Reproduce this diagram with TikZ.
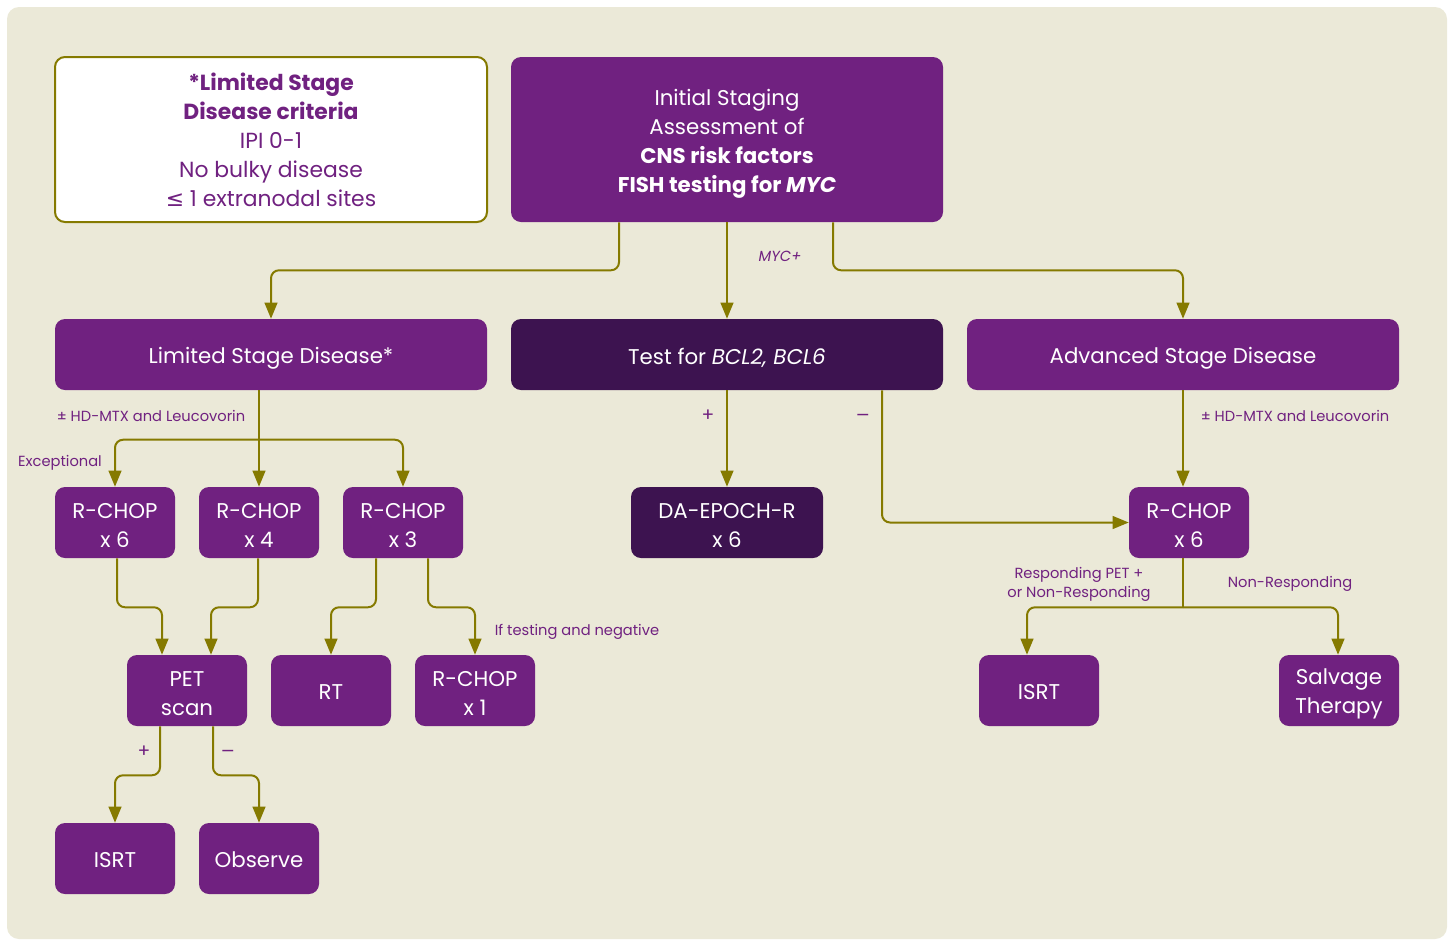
\documentclass[tikz,border=0pt]{standalone}
\usepackage{fontspec}
\setmainfont{Poppins}
\newfontfamily\dv{DejaVu Sans}
\usetikzlibrary{arrows.meta,calc}
\definecolor{pur}{RGB}{112,33,128}
\definecolor{dpur}{RGB}{61,19,80}
\definecolor{olv}{RGB}{133,122,0}
\definecolor{bgc}{RGB}{235,233,216}
\newcommand\liftA{\rule{0pt}{18pt}}
\newcommand\liftB{\rule{0pt}{16.3pt}}
\newcommand\liftC{\rule{0pt}{14.2pt}}
\newcommand\liftD{\rule{0pt}{13.6pt}}
\begin{document}
\begin{tikzpicture}[x=0.75pt,y=-0.75pt,
  pbox/.style={fill=pur,rounded corners=7.5pt,text=white,align=center,inner sep=0pt,
    font=\fontsize{16}{21.75}\selectfont},
  dbox/.style={pbox,fill=dpur},
  big/.style={minimum width=324pt,minimum height=53.25pt},
  small/.style={minimum width=90pt,minimum height=53.25pt},
  critbox/.style={fill=white,draw=olv,line width=1.5pt,rounded corners=7.5pt,text=pur,align=center,
    inner sep=0pt,minimum width=324pt,minimum height=123.75pt,font=\fontsize{16.4}{21.75}\selectfont},
  plain/.style={draw=olv,line width=1.5pt},
  conn/.style={plain,rounded corners=6pt,-{Triangle[length=12pt,width=9.5pt]}},
  lab/.style={text=pur,inner sep=0pt,font=\fontsize{11}{14.2}\selectfont,align=center}]
\useasboundingbox (0,0) rectangle (1450,940);
\fill[white] (0,0) rectangle (1450,940);
\fill[bgc,rounded corners=9pt] (7,7) rectangle (1447,939);

% nodes
\node[critbox] (crit) at (271,139.5) {\liftC\textbf{*Limited Stage}\\\textbf{Disease criteria}\\IPI 0-1\\No bulky disease\\{\dv ≤} 1 extranodal sites};
\node[pbox,minimum width=324pt,minimum height=123.75pt] (init) at (727,139.5) {\liftA Initial Staging\\Assessment of\\\textbf{CNS risk factors}\\\textbf{FISH testing for \textit{MYC}}};
\node[pbox,big] (lim) at (271,354.5) {\liftA Limited Stage Disease*};
\node[dbox,big] (test) at (727,354.5) {\liftA Test for \textit{BCL2, BCL6}};
\node[pbox,big] (adv) at (1183,354.5) {\liftA Advanced Stage Disease};
\node[pbox,small] (rc6) at (115,522.5) {\liftB R-CHOP\\x 6};
\node[pbox,small] (rc4) at (259,522.5) {\liftB R-CHOP\\x 4};
\node[pbox,small] (rc3) at (403,522.5) {\liftB R-CHOP\\x 3};
\node[dbox,minimum width=144pt,minimum height=53.25pt] (da) at (727,522.5) {\liftB DA-EPOCH-R\\x 6};
\node[pbox,small] (rcr) at (1189,522.5) {\liftB R-CHOP\\x 6};
\node[pbox,small] (pet) at (187,690.5) {\liftB PET\\scan};
\node[pbox,small] (rt) at (331,690.5) {\liftD RT};
\node[pbox,small] (rc1) at (475,690.5) {\liftB R-CHOP\\x 1};
\node[pbox,small] (isrtR) at (1039,690.5) {\liftD ISRT};
\node[pbox,small] (salv) at (1339,690.5) {\liftB Salvage\\Therapy};
\node[pbox,small] (isrtL) at (115,858.5) {\liftD ISRT};
\node[pbox,small] (obs) at (259,858.5) {\liftD Observe};

% labels
\node[lab,font=\fontsize{11}{14}\selectfont\itshape] (lmyc) at (780,256) {MYC+};
\node[lab] (lhd1) at (151,416) {± HD-MTX and Leucovorin};
\node[lab] (lexc) at (60,463) {Exceptional};
\node[lab,font=\fontsize{14}{14}\selectfont] (lplus1) at (708,416) {+};
\node[lab,font=\fontsize{13}{14}\selectfont\dv] (lminus1) at (863,417) {−};
\node[lab] (lhd2) at (1295,416) {± HD-MTX and Leucovorin};
\node[lab] (lresp) at (1079,584) {Responding PET +\\or Non-Responding};
\node[lab] (lnon) at (1290,584) {Non-Responding};
\node[lab] (lif) at (577,632) {If testing and negative};
\node[lab,font=\fontsize{14}{14}\selectfont] (lplus2) at (144,752) {+};
\node[lab,font=\fontsize{13}{14}\selectfont\dv] (lminus2) at (228,753) {−};

% connectors
\draw[conn] ($(init.south)+(-108,0)$) -- ++(0,48) -| (lim.north);
\draw[conn] (init.south) -- (test.north);
\draw[conn] ($(init.south)+(106,0)$) -- ++(0,48) -| (adv.north);

\draw[conn] (lim.south -| rc4.north) -- (rc4.north);
\coordinate (j1) at ($(rc4.north)+(0,-47)$);
\draw[conn] (j1) -| (rc6.north);
\draw[conn] (j1) -| (rc3.north);

\draw[conn] (test.south) -- (da.north);
\draw[conn] ($(test.south)+(155,0)$) |- (rcr.west);
\draw[conn] (adv.south) -- (adv.south |- rcr.north);

\coordinate (j2) at ($(rcr.south)+(-6,49)$);
\draw[plain] ($(rcr.south)+(-6,0)$) -- (j2);
\draw[conn] (j2) -| ($(isrtR.north)+(-12,0)$);
\draw[conn] (j2) -| ($(salv.north)+(-1,0)$);

\draw[conn] ($(rc6.south)+(2,0)$) -- ++(0,49) -| ($(pet.north)+(-25,0)$);
\draw[conn] ($(rc4.south)+(-1,0)$) -- ++(0,49) -| ($(pet.north)+(24,0)$);
\draw[conn] ($(rc3.south)+(-27,0)$) -- ++(0,49) -| (rt.north);
\draw[conn] ($(rc3.south)+(25,0)$) -- ++(0,49) -| (rc1.north);
\draw[conn] ($(pet.south)+(-27,0)$) -- ++(0,49) -| (isrtL.north);
\draw[conn] ($(pet.south)+(26,0)$) -- ++(0,49) -| (obs.north);
\end{tikzpicture}
\end{document}
